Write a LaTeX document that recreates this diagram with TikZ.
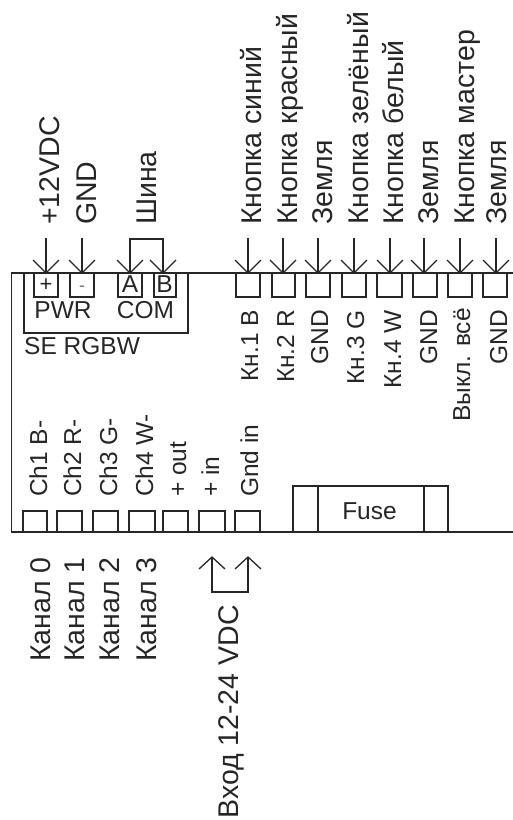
\documentclass[tikz,border=0pt]{standalone}
\usepackage{fontspec}
\setmainfont{Liberation Sans}
\tikzset{
  x=1pt,y=-1pt,
  wire/.style={draw=black!85,line width=1.3pt},
  pin/.style={wire},
  lab/.style={text=black!85,inner sep=0pt,rotate=90},
  big/.style={lab,anchor=base west,font=\fontsize{28.5}{30}\selectfont},
  bigend/.style={lab,anchor=base east,font=\fontsize{28.5}{30}\selectfont},
  mid/.style={lab,anchor=base west,font=\fontsize{24.5}{26}\selectfont},
  midend/.style={lab,anchor=base east,font=\fontsize{24.5}{26}\selectfont},
  flat/.style={font=\fontsize{24.5}{26}\selectfont,text=black!85,inner sep=0pt,anchor=base},
}
\newcommand{\dnarrow}[2]{%
  \coordinate (t#1) at (#2,273);
  \coordinate (s#1) at (#2,238);
  \draw[wire] (s#1) -- (t#1);
  \draw[wire] (#2-13,260) -- (t#1) -- (#2+13,260);
}
\begin{document}
\begin{tikzpicture}
\useasboundingbox (0,0) rectangle (513,820);
% body
\draw[wire] (513,273) -- (11.5,273) -- (11.5,532) -- (513,532);
\draw[wire] (24,273) -- (24,333) -- (188,333) -- (188,273);
% top pins
\foreach \a/\b in {34/58,70/94,118/142,154/176,236/260,272/295,306/330,342/366,377/402,413/437,448/472,483/507}
  \draw[pin] (\a,273) -- (\a,297) -- (\b,297) -- (\b,273);
% bottom pins
\foreach \a/\b in {23/47,57/82,93/118,129/155,163/188,199/225,235/260}
  \draw[pin] (\a,532) -- (\a,511) -- (\b,511) -- (\b,532);
% fuse
\draw[wire] (293,532) -- (293,486) -- (448,486) -- (448,532);
\draw[wire] (318,486) -- (318,532);
\draw[wire] (424,486) -- (424,532);
\node[flat] (fuse) at (369.5,519) {Fuse};
% arrows in
\foreach \n/\p in {a/46,b/82,c/130,d/163,e/248,f/283,g/318,h/354,i/390,j/424,k/460,l/496}
  {\dnarrow{\n}{\p}}
\draw[wire] (sc) -- (130,239) -- (163,239) -- (sd);
% arrows out
\coordinate (u1) at (212,557);
\coordinate (u2) at (248,557);
\draw[wire] (u1) -- (212,592) -- (248,592) -- (u2);
\draw[wire] (199,569) -- (u1) -- (225,569);
\draw[wire] (235,569) -- (u2) -- (261,569);
% labels
\node[flat,font=\fontsize{22}{24}\selectfont] (pm) at (46,291) {+};
\node[flat,font=\fontsize{18}{20}\selectfont,text=black!55] (mi) at (82,291) {-};
\node[flat] (ka) at (130,292) {A};
\node[flat] (kb) at (164.5,292) {B};
\node[flat] (pwr) at (63,318) {PWR};
\node[flat] (com) at (145.5,318) {COM};
\node[flat,anchor=base west] (se) at (24,354) {SE RGBW};
% outer top labels
\foreach \n/\p/\t in {o1/59/+12VDC,o2/96/GND,o3/156/Шина,o4/261/Кнопка синий,o5/297/Кнопка красный,o6/332/Земля,o7/368/Кнопка зелёный,o8/403/Кнопка белый,o9/438/Земля,o10/474/Кнопка мастер}
  \node[big] (\n) at (\p,225) {\t};
\node[big,text depth=0pt] (o11) at (506,225) {Земля};
% inner top labels
\foreach \n/\p/\t in {i1/258/Кн.1 B,i2/294/Кн.2 R,i3/328/GND,i4/364/Кн.3 G,i5/401/Кн.4 W,i6/437/GND,i8/507/GND}
  \node[midend] (\n) at (\p,310) {\t};
\node[midend] (i7) at (470,308) {Выкл. всё};
% inner bottom labels
\foreach \n/\p/\t in {c1/47/Ch1 B-,c2/81/Ch2 R-,c3/117/Ch3 G-,c4/153/Ch4 W-,c5/186/+ out,c6/219/+ in,c7/258/Gnd in}
  \node[mid] (\n) at (\p,497) {\t};
% outer bottom labels
\foreach \n/\p/\t in {k0/50/Канал 0,k1/84/Канал 1,k2/119/Канал 2,k3/156/Канал 3}
  \node[bigend] (\n) at (\p,557) {\t};
\node[bigend] (vh) at (238,605) {Вход 12-24 VDC};
\end{tikzpicture}
\end{document}
